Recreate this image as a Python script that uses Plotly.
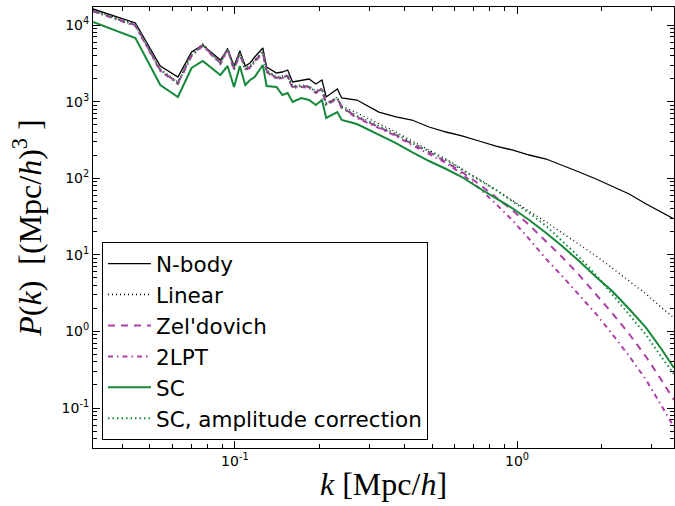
import plotly.graph_objects as go

# wavenumbers k [Mpc/h]
k = [0.0314, 0.0444, 0.0544, 0.0628, 0.0702, 0.0769, 0.0888, 0.0942, 0.0993, 0.1041,
     0.1088, 0.1132, 0.1175, 0.1256, 0.1295, 0.1404, 0.1473, 0.1538, 0.1601, 0.1720,
     0.1831, 0.1936, 0.2035, 0.2106, 0.2307, 0.2391, 0.2706, 0.3239, 0.3722, 0.4244,
     0.4877, 0.5603, 0.6378, 0.7330, 0.8423, 0.9605, 1.104, 1.268, 1.444, 1.659,
     1.906, 2.173, 2.497, 2.869, 3.266, 3.60]

p_nbody = [16180, 10620, 2916, 2095, 4442, 5483, 3493, 4861, 2916, 4577,
           2916, 3191, 3821, 5010, 2829, 2363, 2435, 2586, 1803, 1914,
           1973, 1698, 1914, 1148, 1460, 1114, 1049, 731, 630, 575,
           466, 401, 356, 306, 263, 233.5, 200.9, 178.1, 148.7, 120.5,
           97.6, 79.1, 62.2, 46.1, 35.1, 29.3]

p_linear = [15700, 10300, 2665, 1803, 4182, 5649, 3289, 5010, 2747, 4577,
            2747, 2916, 3493, 4577, 2586, 2095, 2159, 2225, 1598, 1647,
            1598, 1375, 1505, 959, 1148, 876, 710, 510, 401, 306,
            233.5, 178.1, 131.9, 97.6, 70.2, 51.9, 37.3, 26.8, 19.3, 13.8,
            9.65, 6.73, 4.55, 3.08, 2.02, 1.50]

p_zel = [15230, 10000, 2586, 1749, 4058, 5483, 3191, 4861, 2665, 4310,
         2665, 2829, 3389, 4442, 2509, 2033, 2095, 2159, 1551, 1598,
         1551, 1334, 1460, 930, 1114, 850, 630, 466, 366, 280,
         219.8, 162.7, 120.5, 84.0, 56.8, 38.5, 24.5, 15.1, 9.36, 5.45,
         3.08, 1.74, 0.925, 0.463, 0.225, 0.127]

p_2lpt = [15100, 9705, 2509, 1698, 3938, 5318, 3097, 4717, 2586, 4182,
          2586, 2747, 3289, 4310, 2435, 1973, 2033, 2095, 1505, 1551,
          1505, 1295, 1417, 903, 1081, 825, 611, 452, 356, 271,
          207, 158.0, 113.4, 74.5, 46.1, 28.5, 16.1, 8.82, 5.29, 2.99,
          1.69, 0.925, 0.477, 0.232, 0.106, 0.0565]

p_sc = [10950, 6767, 1647, 1148, 2747, 3389, 2225, 2916, 1551, 2916,
        1647, 1914, 2095, 3005, 1598, 1551, 1220, 1295, 988, 1114,
        1049, 903, 1049, 611, 731, 575, 510, 366, 288, 219.8,
        167.7, 131.9, 103.7, 74.5, 55.2, 40.8, 28.5, 19.3, 13.0, 8.30,
        5.13, 3.37, 1.96, 1.11, 0.572, 0.333]

p_sc_amp = [15230, 10000, 2586, 1749, 4058, 5483, 3191, 4861, 2665, 4310,
            2665, 2829, 3389, 4442, 2509, 2033, 2095, 2159, 1551, 1598,
            1551, 1334, 1460, 930, 1114, 850, 649, 480, 378, 288,
            226.5, 172.8, 128.0, 94.8, 70.2, 50.4, 35.1, 23.8, 15.1, 9.36,
            5.45, 3.08, 1.69, 0.898, 0.450, 0.278]

names = ["N-body", "Linear", "Zel'dovich", "2LPT", "SC", "SC, amplitude correction"]

PURPLE = "#ad3fa6"
GREEN = "#16883a"

styles = [
    dict(color="black", width=1.3, dash="solid"),
    dict(color="black", width=1.3, dash="1px,3px"),
    dict(color=PURPLE, width=2, dash="7px,6px"),
    dict(color=PURPLE, width=2, dash="5px,4px,1.5px,4px"),
    dict(color=GREEN, width=2, dash="solid"),
    dict(color=GREEN, width=2, dash="1.5px,3px"),
]

series = [p_nbody, p_linear, p_zel, p_2lpt, p_sc, p_sc_amp]

fig = go.Figure()
for nm, ys, st in zip(names, series, styles):
    fig.add_trace(go.Scatter(x=k, y=ys, mode="lines", name=nm, line=st))

x_minor = [0.04, 0.05, 0.06, 0.07, 0.08, 0.09,
           0.2, 0.3, 0.4, 0.5, 0.6, 0.7, 0.8, 0.9, 2, 3]
y_minor = []
for dec in [0.01, 0.1, 1, 10, 100, 1000]:
    for m in range(2, 10):
        y_minor.append(round(dec * m, 6))

tickfont = dict(family="DejaVu Sans", size=14, color="black")
titlefont = dict(family="Liberation Serif", size=32, color="black")

fig.update_layout(
    width=675, height=506,
    margin=dict(l=93, r=1, t=7, b=58),
    paper_bgcolor="white", plot_bgcolor="white",
    showlegend=True,
    legend=dict(
        x=0.0155, y=0.018, xanchor="left", yanchor="bottom",
        bgcolor="white", bordercolor="black", borderwidth=1,
        font=dict(family="DejaVu Sans", size=21.5, color="black"),
        itemwidth=43,
    ),
    xaxis=dict(
        type="log", range=[-1.503, 0.5563],
        tickvals=[0.1, 1], ticktext=["10<sup>-1</sup>", "10<sup>0</sup>"],
        ticks="inside", ticklen=7, tickcolor="black",
        showline=True, linecolor="black", linewidth=1, mirror="allticks",
        showgrid=False, zeroline=False, tickfont=tickfont,
        minor=dict(tickvals=x_minor, ticks="inside", ticklen=4, tickcolor="black", showgrid=False),
        title=dict(text="<i>k</i> [Mpc/<i>h</i>]", font=titlefont, standoff=4),
    ),
    yaxis=dict(
        type="log", range=[-1.522, 4.235],
        tickvals=[0.1, 1, 10, 100, 1000, 10000],
        ticktext=["10<sup>-1</sup>", "10<sup>0</sup>", "10<sup>1</sup>",
                  "10<sup>2</sup>", "10<sup>3</sup>", "10<sup>4</sup>"],
        ticks="inside", ticklen=7, tickcolor="black",
        showline=True, linecolor="black", linewidth=1, mirror="allticks",
        showgrid=False, zeroline=False, tickfont=tickfont,
        minor=dict(tickvals=y_minor, ticks="inside", ticklen=4, tickcolor="black", showgrid=False),
        title=dict(text="<i>P</i>(<i>k</i>)  [(Mpc/<i>h</i>)<sup>3</sup> ]", font=titlefont, standoff=10),
    ),
)

fig.write_html("out.html")
